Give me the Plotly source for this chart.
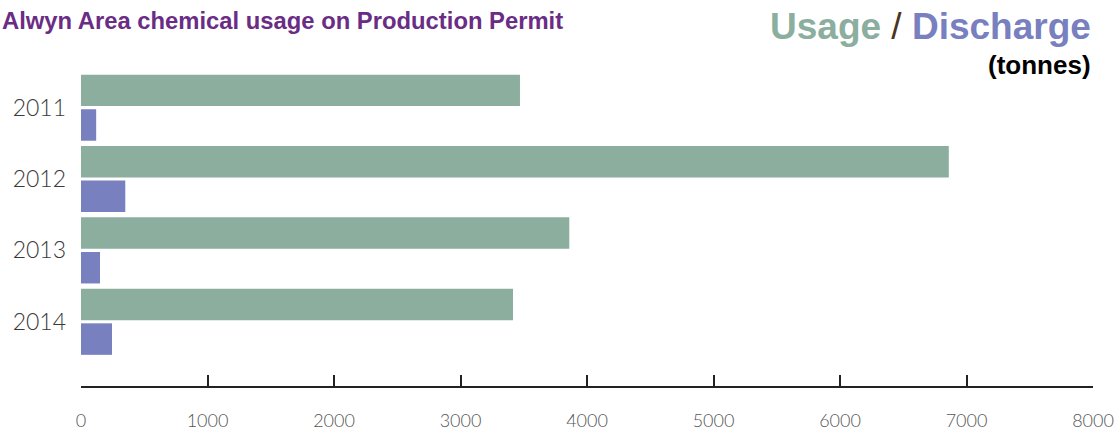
import plotly.graph_objects as go

years = ["2011", "2012", "2013", "2014"]
usage = [3470, 6860, 3860, 3415]
discharge = [120, 350, 150, 245]
x_ticks = [0, 1000, 2000, 3000, 4000, 5000, 6000, 7000, 8000]

USAGE_C = "#8bae9e"
DISCH_C = "#7880bf"

fig = go.Figure()
fig.add_trace(go.Bar(y=years, x=usage, orientation="h", name="Usage",
                     marker=dict(color=USAGE_C, line=dict(width=0))))
fig.add_trace(go.Bar(y=years, x=discharge, orientation="h", name="Discharge",
                     marker=dict(color=DISCH_C, line=dict(width=0))))

fig.update_layout(
    width=1120, height=430,
    margin=dict(l=81, r=27, t=72, b=44, autoexpand=False),
    paper_bgcolor="white", plot_bgcolor="white",
    barmode="group", bargap=0.03, bargroupgap=0.09,
    showlegend=False,
    font=dict(family="Liberation Sans, Arial, sans-serif"),
    xaxis=dict(range=[0, 8000], tickvals=x_ticks, showgrid=False, zeroline=False,
               showline=True, linecolor="#222", linewidth=1.5,
               ticks="inside", ticklen=11, tickwidth=1.5, tickcolor="#222",
               tickfont=dict(family="Lato, Roboto, sans-serif", size=18, color="#555", weight=300),
               ticklabelstandoff=18, automargin=False, fixedrange=True),
    yaxis=dict(type="category", range=[3.9, -0.5], showgrid=False, zeroline=False,
               showline=False, ticks="",
               tickfont=dict(family="Lato, Roboto, sans-serif", size=23, color="#3a3a3a", weight=300),
               ticklabelstandoff=14, automargin=False, fixedrange=True),
)

fig.add_annotation(xref="paper", yref="paper", x=-81/1012, y=1 + (72-20)/314, xanchor="left", yanchor="middle",
                   text="<b>Alwyn Area chemical usage on Production Permit</b>",
                   showarrow=False, font=dict(size=23.8, color="#6a2c84", family="Liberation Sans, Arial, sans-serif"))
fig.add_annotation(xref="paper", yref="paper", x=1, y=1 + (72-27)/314, xanchor="right", yanchor="middle",
                   text=f"<b><span style='color:{USAGE_C}'>Usage</span></b> <span style='color:#4a3520'>/</span> <b><span style='color:{DISCH_C}'>Discharge</span></b>",
                   showarrow=False, font=dict(size=37, family="Liberation Sans, Arial, sans-serif"))
fig.add_annotation(xref="paper", yref="paper", x=1, y=1 + (72-65)/314, xanchor="right", yanchor="middle",
                   text="<b>(tonnes)</b>",
                   showarrow=False, font=dict(size=26, color="#000", family="Liberation Sans, Arial, sans-serif"))

fig.write_html("out.html", config={"displayModeBar": False})
